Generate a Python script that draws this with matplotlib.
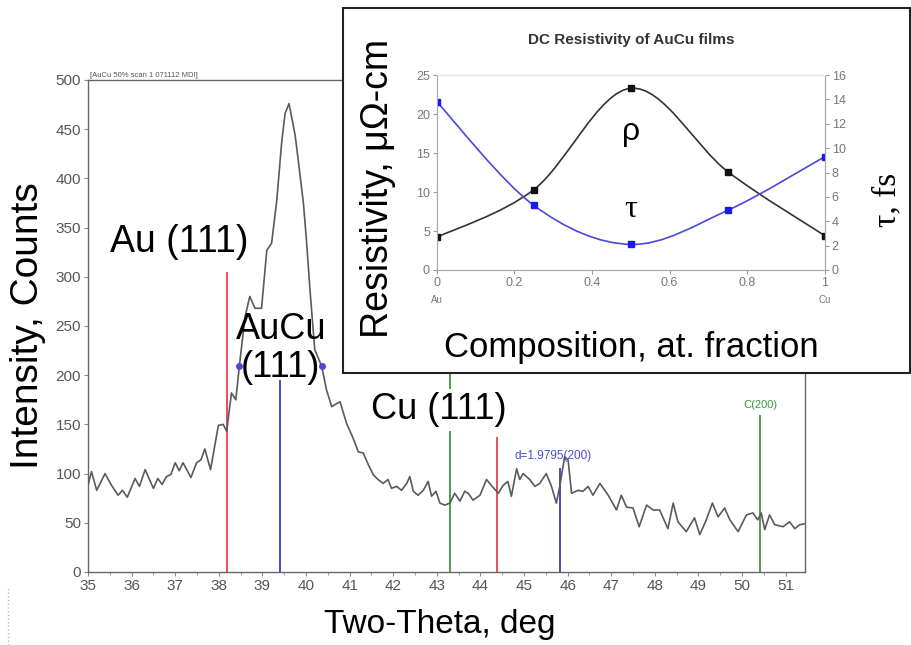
import numpy as np
import matplotlib
matplotlib.use("Agg")
import matplotlib.pyplot as plt
from matplotlib.path import Path
from matplotlib.patches import PathPatch, Rectangle
from matplotlib.ticker import MultipleLocator

plt.rcParams['font.family'] = ['Liberation Sans', 'DejaVu Sans']

# --- XRD scan (AuCu 50%) ---
two_theta = [35.01, 35.08, 35.20, 35.39, 35.54, 35.69, 35.79, 35.90, 36.08, 36.18,
             36.31, 36.50, 36.60, 36.70, 36.80, 36.90, 37.00, 37.09, 37.18, 37.36,
             37.49, 37.59, 37.68, 37.81, 37.99, 38.10, 38.18, 38.29, 38.39, 38.47,
             38.60, 38.71, 38.83, 38.98, 39.10, 39.21, 39.33, 39.44, 39.52, 39.61,
             39.75, 39.82, 39.94, 40.01, 40.09, 40.20, 40.36, 40.47, 40.59, 40.66,
             40.78, 40.93, 41.08, 41.20, 41.31, 41.43, 41.54, 41.65, 41.77, 41.88,
             41.96, 42.08, 42.19, 42.31, 42.38, 42.46, 42.57, 42.69, 42.80, 42.88,
             42.98, 43.07, 43.18, 43.30, 43.41, 43.53, 43.64, 43.72, 43.83, 43.99,
             44.14, 44.25, 44.41, 44.52, 44.63, 44.71, 44.83, 44.90, 44.98, 45.13,
             45.25, 45.36, 45.51, 45.63, 45.74, 45.82, 45.93, 46.01, 46.09, 46.24,
             46.35, 46.47, 46.58, 46.74, 46.93, 47.12, 47.23, 47.35, 47.50, 47.64,
             47.81, 47.96, 48.11, 48.30, 48.42, 48.53, 48.72, 48.91, 49.03, 49.18,
             49.32, 49.45, 49.60, 49.72, 49.91, 50.10, 50.25, 50.36, 50.44, 50.52,
             50.63, 50.75, 50.94, 51.09, 51.21, 51.32, 51.44]
counts = [90, 102, 83, 100, 88, 78, 83, 76, 95, 87,
          104, 85, 95, 89, 97, 99, 111, 103, 111, 96,
          111, 114, 125, 104, 149, 150, 143, 182, 175, 209,
          259, 280, 268, 268, 327, 334, 378, 436, 466, 476,
          444, 419, 375, 337, 287, 226, 209, 185, 168, 170,
          173, 151, 136, 122, 121, 109, 99, 94, 90, 94,
          85, 87, 83, 90, 97, 82, 78, 83, 92, 77,
          82, 70, 68, 70, 80, 72, 82, 80, 73, 78,
          94, 88, 80, 88, 92, 77, 105, 94, 100, 94,
          87, 90, 100, 87, 70, 87, 117, 114, 80, 83,
          82, 87, 78, 90, 78, 63, 78, 66, 65, 46,
          68, 63, 63, 44, 70, 51, 41, 55, 38, 53,
          70, 56, 65, 53, 41, 58, 60, 53, 60, 43,
          58, 48, 46, 51, 44, 48, 49]

# reference peak markers
ref_pos = [38.18, 39.40, 43.30, 44.38, 45.82, 50.42]
ref_height = [305, 195, 260, 137, 106, 160]
ref_color = ['#e8424a', '#3a3ad0', '#3c9a3c', '#e8424a', '#3a3ad0', '#3c9a3c']

handle_x = [38.47, 40.36]
handle_y = [209, 209]

# --- inset: DC resistivity of AuCu films ---
composition = [0.0, 0.25, 0.5, 0.75, 1.0]
resistivity = [4.2, 10.3, 23.3, 12.6, 4.4]
tau_fs = [13.8, 5.3, 2.1, 4.9, 9.3]


def smooth_path(xs, ys):
    """Excel-style smoothed line as cubic Bezier segments through the points."""
    pts = np.column_stack([xs, ys]).astype(float)
    n = len(pts)
    verts = [pts[0]]
    codes = [Path.MOVETO]
    for i in range(n - 1):
        p0 = pts[max(i - 1, 0)]
        p1 = pts[i]
        p2 = pts[i + 1]
        p3 = pts[min(i + 2, n - 1)]
        c1 = p1 + (p2 - p0) / 6.0
        c2 = p2 - (p3 - p1) / 6.0
        verts += [c1, c2, p2]
        codes += [Path.CURVE4] * 3
    return Path(verts, codes)


def plot_main(fig):
    ax = fig.add_axes([0.0965, 0.1132, 0.786, 0.7628])
    ax.plot(two_theta, counts, color='#5a5a5a', lw=1.2, zorder=3)
    for pos, h, c in zip(ref_pos, ref_height, ref_color):
        ax.vlines(pos, 0, h, color=c, lw=1.3, zorder=2)
    ax.plot(handle_x, handle_y, 'o', color='#4a4ad8', ms=4, zorder=4)

    ax.set_xlim(35, 51.44)
    ax.set_ylim(0, 500)
    ax.xaxis.set_major_locator(MultipleLocator(1))
    ax.xaxis.set_minor_locator(MultipleLocator(0.5))
    ax.yaxis.set_major_locator(MultipleLocator(50))
    ax.tick_params(which='both', colors='#888888', labelcolor='#555555',
                   labelsize=11, length=3, pad=2)
    ax.tick_params(which='minor', length=2)
    for s in ax.spines.values():
        s.set_color('#666666')
        s.set_linewidth(1.0)

    ax.set_xlabel('Two-Theta, deg', fontsize=24)
    ax.xaxis.set_label_coords(0.49, -0.075)
    ax.set_ylabel('Intensity, Counts', fontsize=28)
    ax.yaxis.set_label_coords(-0.058, 0.5)

    ax.text(35.5, 335, 'Au (111)', fontsize=27, ha='left', va='center', zorder=5)
    ax.text(38.4, 246, 'AuCu', fontsize=26, ha='left', va='center', zorder=5)
    ax.text(38.5, 208, '(111)', fontsize=26, ha='left', va='center', zorder=5)
    ax.text(41.5, 165, 'Cu (111)', fontsize=26, ha='left', va='center', zorder=5,
            bbox=dict(boxstyle='square,pad=0.1', fc='white', ec='none'))
    ax.text(44.79, 112, 'd=1.9795(200)', fontsize=8.5, color='#4a4ad8',
            ha='left', va='bottom', zorder=5)
    ax.text(50.42, 165, 'C(200)', fontsize=8, color='#3c9a3c',
            ha='center', va='bottom', zorder=5)
    ax.text(0.003, 1.003, '[AuCu 50% scan 1 071112 MDI]', transform=ax.transAxes,
            fontsize=5.5, color='#555555', ha='left', va='bottom')
    return ax


def plot_inset(fig):
    # white frame behind the inset
    fig.patches.append(Rectangle((0.376, 0.422), 0.622, 0.566, transform=fig.transFigure,
                                 fc='white', ec='#222222', lw=1.5, zorder=10))
    ax = fig.add_axes([0.479, 0.5814, 0.4254, 0.3023], zorder=11)
    ax.patch.set_alpha(0)
    ax2 = ax.twinx()
    ax2.set_zorder(12)

    ax.add_patch(PathPatch(smooth_path(composition, resistivity), fc='none',
                           ec='#333333', lw=1.2))
    ax.plot(composition, resistivity, 's', color='#111111', ms=5)
    ax2.add_patch(PathPatch(smooth_path(composition, tau_fs), fc='none',
                            ec='#4848dd', lw=1.2))
    ax2.plot(composition, tau_fs, 's', color='#1a1aee', ms=5)

    ax.set_xlim(0, 1)
    ax.set_ylim(0, 25)
    ax2.set_ylim(0, 16)
    ax.yaxis.set_major_locator(MultipleLocator(5))
    ax2.yaxis.set_major_locator(MultipleLocator(2))
    ax.set_xticks([0, 0.2, 0.4, 0.6, 0.8, 1.0])
    ax.set_xticklabels(['0', '0.2', '0.4', '0.6', '0.8', '1'])
    for a in (ax, ax2):
        a.tick_params(colors='#999999', labelcolor='#777777', labelsize=9,
                      length=3, pad=2)
        for s in a.spines.values():
            s.set_color('#aaaaaa')
    ax.spines['top'].set_color('#e4e4e4')
    ax2.spines['top'].set_color('#e4e4e4')

    ax.text(0, -0.13, 'Au', transform=ax.get_xaxis_transform(), fontsize=7,
            color='#777777', ha='center', va='top')
    ax.text(1, -0.13, 'Cu', transform=ax.get_xaxis_transform(), fontsize=7,
            color='#777777', ha='center', va='top')

    ax.set_title('DC Resistivity of AuCu films', fontsize=11, fontweight='bold',
                 color='#333333', pad=22)
    ax.set_xlabel('Composition, at. fraction', fontsize=25, labelpad=30)
    ax.set_ylabel('Resistivity, μΩ-cm', fontsize=27)
    ax.yaxis.set_label_coords(-0.105, 0.42)
    ax2.set_ylabel('τ, fs', fontsize=24, family=['Liberation Serif', 'DejaVu Serif'])
    ax2.yaxis.set_label_coords(1.12, 0.36)

    ax.text(0.5, 17.7, 'ρ', fontsize=23, ha='center', va='center')
    ax.text(0.5, 7.7, 'τ', fontsize=23, ha='center', va='center',
            family=['Liberation Serif', 'DejaVu Serif'])
    return ax, ax2


def main():
    fig = plt.figure(figsize=(9.12, 6.45), dpi=100)
    plot_main(fig)
    plot_inset(fig)
    # faint dotted edge at lower left
    fig.add_artist(plt.Line2D([0.009, 0.009], [0.0, 0.09], transform=fig.transFigure,
                              color='#bbbbbb', lw=1, ls=':'))
    fig.savefig('out.png', dpi=100)


if __name__ == "__main__":
    main()
